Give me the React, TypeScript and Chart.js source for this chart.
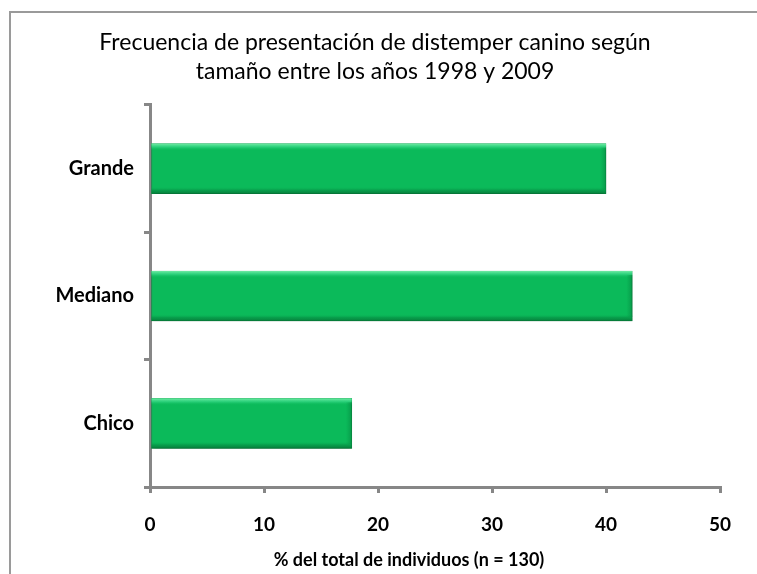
import React, { useEffect, useRef } from "react";
import { Chart, registerables } from "chart.js";

Chart.register(...registerables);

const categories = ["Grande", "Mediano", "Chico"];
const values = [40.0, 42.3, 17.7];
const xMin = 0;
const xMax = 50;
const xStep = 10;
const titleLines = [
  "Frecuencia de presentación de distemper canino según",
  "tamaño entre los años 1998 y 2009",
];
const xTitle = "% del total de individuos (n = 130)";

const FONT = "Lato, 'Liberation Sans', Arial, sans-serif";
const AXIS = "#878787";

const bevelPlugin = {
  id: "bevel",
  beforeDatasetsDraw(chart: any) {
    const ctx = chart.ctx;
    ctx.save();
    ctx.shadowColor = "rgba(0,0,0,0.35)";
    ctx.shadowBlur = 5;
    ctx.shadowOffsetX = 1;
    ctx.shadowOffsetY = 3;
  },
  afterDatasetsDraw(chart: any) {
    const ctx = chart.ctx;
    ctx.restore();
    const meta = chart.getDatasetMeta(0);
    meta.data.forEach((bar: any) => {
      const left = Math.min(bar.base, bar.x);
      const right = Math.max(bar.base, bar.x);
      const top = bar.y - bar.height / 2;
      const h = bar.height;
      const g = ctx.createLinearGradient(0, top, 0, top + h);
      g.addColorStop(0, "rgba(120,240,170,0.95)");
      g.addColorStop(0.07, "rgba(60,220,140,0.6)");
      g.addColorStop(0.14, "rgba(11,186,90,0)");
      g.addColorStop(0.86, "rgba(11,186,90,0)");
      g.addColorStop(0.93, "rgba(6,140,66,0.6)");
      g.addColorStop(1, "rgba(5,120,55,0.9)");
      ctx.save();
      ctx.fillStyle = g;
      ctx.fillRect(left, top, right - left, h);
      const gr = ctx.createLinearGradient(right - 6, 0, right, 0);
      gr.addColorStop(0, "rgba(6,150,70,0)");
      gr.addColorStop(1, "rgba(6,140,66,0.7)");
      ctx.fillStyle = gr;
      ctx.fillRect(right - 6, top + 4, 6, h - 8);
      ctx.restore();
    });
  },
};

const axisTitlePlugin = {
  id: "axisTitle",
  afterDraw(chart: any) {
    const ctx = chart.ctx;
    const xs = chart.scales.x;
    ctx.save();
    ctx.fillStyle = "#000";
    ctx.font = `bold 18px ${FONT}`;
    ctx.textAlign = "center";
    ctx.textBaseline = "middle";
    ctx.fillText(xTitle, 409, xs.bottom - 14);
    ctx.restore();
  },
};

export default function App() {
  const ref = useRef<HTMLCanvasElement | null>(null);

  useEffect(() => {
    if (!ref.current) return;
    const chart = new Chart(ref.current, {
      type: "bar",
      data: {
        labels: categories,
        datasets: [
          {
            data: values,
            backgroundColor: "#0BBA5A",
            borderColor: "#0A9E4C",
            borderWidth: 1,
            borderSkipped: false,
            barThickness: 50,
          },
        ],
      },
      options: {
        indexAxis: "y",
        animation: false,
        responsive: false,
        maintainAspectRatio: false,
        layout: { padding: { top: 0, right: 37, bottom: 0, left: 30 } },
        plugins: {
          legend: { display: false },
          tooltip: { enabled: false },
          title: {
            display: true,
            text: titleLines,
            color: "#000",
            font: { family: FONT, size: 23, weight: "normal", lineHeight: 1.26 },
            padding: { top: 28, bottom: 19 },
          },
        },
        scales: {
          x: {
            type: "linear",
            min: xMin,
            max: xMax,
            ticks: {
              stepSize: xStep,
              color: "#000",
              font: { family: FONT, size: 19, weight: "bold" },
              padding: 20,
            },
            grid: {
              drawOnChartArea: false,
              drawTicks: true,
              tickLength: 6,
              color: AXIS,
              lineWidth: 3,
            },
            border: { display: true, color: AXIS, width: 3 },
            title: { display: false },
            afterFit: (s: any) => {
              s.height = 87;
            },
          },
          y: {
            type: "category",
            ticks: {
              color: "#000",
              font: { family: FONT, size: 20, weight: "bold" },
              padding: 10,
            },
            grid: {
              offset: true,
              drawOnChartArea: false,
              drawTicks: true,
              tickLength: 6,
              color: AXIS,
              lineWidth: 3,
            },
            border: { display: true, color: AXIS, width: 3 },
            afterFit: (s: any) => {
              s.width = 120;
            },
          },
        },
      },
      plugins: [bevelPlugin, axisTitlePlugin],
    } as any);
    return () => chart.destroy();
  }, []);

  return (
    <div
      style={{
        position: "absolute",
        left: 0,
        top: 0,
        width: 757,
        height: 574,
        background: "#fff",
        overflow: "hidden",
      }}
    >
      <div
        style={{
          position: "absolute",
          left: 9,
          top: 11,
          width: 800,
          height: 600,
          borderLeft: "2px solid #9a9a9a",
          borderTop: "2px solid #9a9a9a",
        }}
      />
      <canvas
        ref={ref}
        width={757}
        height={574}
        style={{ position: "absolute", left: 0, top: 0, width: 757, height: 574 }}
      />
    </div>
  );
}
